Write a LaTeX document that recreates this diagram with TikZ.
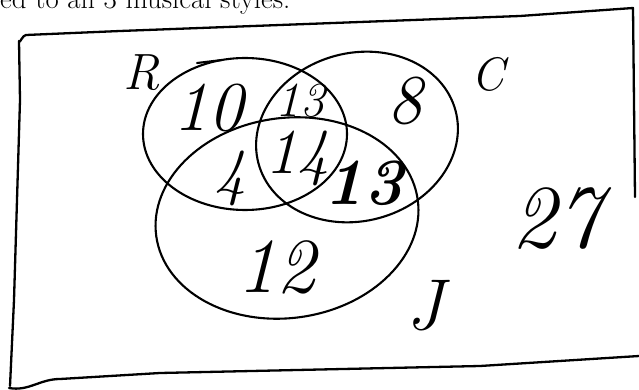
\documentclass[tikz,border=0pt]{standalone}
\usepackage{fontspec}
\begin{document}
\begin{tikzpicture}[x=1pt,y=-1pt,
  pen/.style={line width=2.1pt, line cap=round, line join=round},
  frame/.style={line width=2.3pt, line cap=round, line join=round},
  hand/.style={inner sep=0pt, font=\itshape},
]
\clip (0,0) rectangle (639,390);
\fill[white] (0,0) rectangle (639,390);
% cut-off text at the top (cropped in the reference too)
\node[anchor=base west, inner sep=0pt, font=\fontsize{28.8}{32}\selectfont] (top) at (0,9) {ed to all 3 musical styles.};
% frame
\draw[frame] (10,386) -- (14,300) -- (20,100) -- (19,41) to[out=-80,in=180] (26,35) -- (120,31) -- (520,16) -- (633,8) -- (635,197);
\draw[frame] (9,388) to[out=-10,in=180] (60,379) -- (160,373) -- (480,366) -- (639,356);
% ellipses
\draw[pen] (245,134) ellipse [x radius=102pt, y radius=76pt];
\draw[pen] (197,63) -- (222,60);
\draw[pen, rotate around={15:(357,137)}] (357,137) ellipse [x radius=102pt, y radius=84pt];
\draw[pen, rotate around={8:(287,218)}] (287,218) ellipse [x radius=132pt, y radius=100pt];
% set labels
\node[hand, font=\itshape\fontsize{51}{51}\selectfont] (R) at (142,73) {R};
\node[hand, font=\itshape\fontsize{47}{47}\selectfont] (C) at (488,74) {C};
\node[hand, font=\itshape\fontsize{72}{72}\selectfont] (J) at (425,306) {J};
% region counts
\node[hand, font=\itshape\fontsize{70}{70}\selectfont] (n10) at (208,108) {10};
\node[hand, font=\itshape\fontsize{49}{49}\selectfont] (n13a) at (300,101) {13};
\node[hand, font=\itshape\fontsize{64}{64}\selectfont] (n14) at (297,158) {14};
\node[hand, font=\itshape\fontsize{64}{64}\selectfont] (n4) at (230,178) {4};
\node[hand, font=\bfseries\itshape\fontsize{66}{66}\selectfont] (n13b) at (364,183) {13};
\node[hand, font=\itshape\fontsize{70}{70}\selectfont] (n8) at (405,101) {8};
\node[hand, font=\itshape\fontsize{78}{78}\selectfont] (n12) at (276,267) {12};
\node[hand, font=\itshape\fontsize{90}{90}\selectfont] (n27) at (556,219) {27};
\end{tikzpicture}
\end{document}
